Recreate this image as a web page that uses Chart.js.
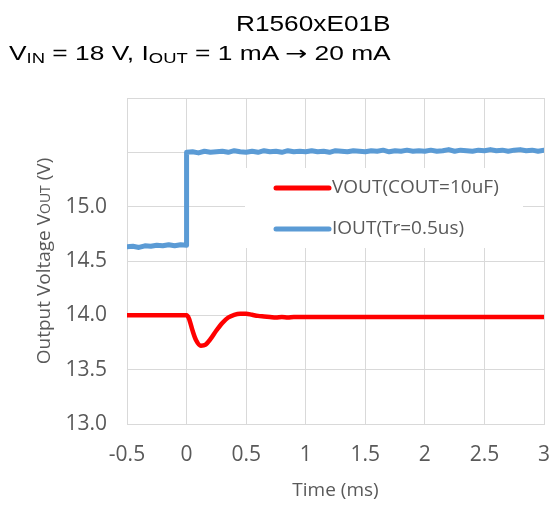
<!DOCTYPE html>
<html>
<head>
<meta charset="utf-8">
<script src="https://cdn.jsdelivr.net/npm/chart.js@4.4.1/dist/chart.umd.min.js"></script>
<style>
  html, body { margin: 0; padding: 0; background: #fff; }
  #wrap { position: relative; width: 552px; height: 505px; }
  canvas { position: absolute; left: 0; top: 0; }
  .ttl { position: absolute; font-family: "Liberation Sans", Arial, sans-serif;
         color: #000; white-space: nowrap; transform-origin: left top; }
  .ttl .sb { font-size: 14px; position: relative; top: 3px; }
  .ttl .ar { font-family: "DejaVu Sans", sans-serif; }
</style>
</head>
<body>
<div id="wrap">
  <canvas id="chart" width="552" height="505"></canvas>
  <div class="ttl" id="t1" style="left:236px; top:13px; font-size:22px; line-height:22px;" data-w="155">R1560xE01B</div>
  <div class="ttl" id="t2" style="left:9px; top:43px; font-size:20px; line-height:20px;" data-w="382">V<span class="sb">IN</span> = 18 V, I<span class="sb">OUT</span> = 1 mA <span class="ar">→</span> 20 mA</div>
</div>
<script>
// VOUT step response (V)
const timeV = [-0.5, 0, 0.02, 0.05, 0.08, 0.12, 0.16, 0.2, 0.25, 0.3, 0.35, 0.4, 0.45, 0.5,
               0.55, 0.6, 0.65, 0.7, 0.75, 0.8, 0.85, 0.9, 1.0, 3.0];
const vout = [14.00, 14.00, 13.97, 13.86, 13.77, 13.72, 13.73, 13.78, 13.86, 13.93, 13.98, 14.005, 14.015, 14.015,
              14.005, 13.995, 13.99, 13.985, 13.98, 13.985, 13.98, 13.985, 13.985, 13.985];

// IOUT load step, drawn on the same scale as the reference
const timeI = [-0.5, -0.45, -0.4, -0.35, -0.3, -0.25, -0.2, -0.15, -0.1, -0.05, 0, 0,
  0.05, 0.1, 0.15, 0.2, 0.25, 0.3, 0.35, 0.4, 0.45, 0.5,
  0.55, 0.6, 0.65, 0.7, 0.75, 0.8, 0.85, 0.9, 0.95, 1.0,
  1.05, 1.1, 1.15, 1.2, 1.25, 1.3, 1.35, 1.4, 1.45, 1.5,
  1.55, 1.6, 1.65, 1.7, 1.75, 1.8, 1.85, 1.9, 1.95, 2.0,
  2.05, 2.1, 2.15, 2.2, 2.25, 2.3, 2.35, 2.4, 2.45, 2.5,
  2.55, 2.6, 2.65, 2.7, 2.75, 2.8, 2.85, 2.9, 2.95, 3.0];
const iout = [14.63, 14.635, 14.625, 14.64, 14.635, 14.645, 14.64, 14.65, 14.64, 14.65, 14.645, 15.50,
  15.505, 15.495, 15.51, 15.50, 15.505, 15.51, 15.50, 15.515, 15.505, 15.50,
  15.51, 15.50, 15.515, 15.505, 15.51, 15.50, 15.515, 15.505, 15.51, 15.505,
  15.515, 15.505, 15.51, 15.50, 15.515, 15.51, 15.505, 15.515, 15.51, 15.505,
  15.515, 15.51, 15.52, 15.505, 15.515, 15.51, 15.52, 15.51, 15.515, 15.51,
  15.52, 15.51, 15.515, 15.525, 15.51, 15.52, 15.515, 15.51, 15.52, 15.515,
  15.525, 15.515, 15.52, 15.51, 15.52, 15.525, 15.515, 15.52, 15.51, 15.52];

const xTicks = [-0.5, 0, 0.5, 1, 1.5, 2, 2.5, 3];
const yTicks = [13.0, 13.5, 14.0, 14.5, 15.0, 15.5, 16.0];
const yLabels = ['13.0', '13.5', '14.0', '14.5', '15.0', '', ''];

const grey = '#595959';
const gridCol = '#d9d9d9';

// stretch the title lines to the width they have in the reference
document.querySelectorAll('.ttl').forEach(el => {
  const k = Number(el.dataset.w) / el.offsetWidth;
  el.style.transform = 'scaleX(' + k + ')';
});

const extras = {
  id: 'extras',
  afterDraw(chart) {
    const ctx = chart.ctx;
    const a = chart.chartArea;
    ctx.save();
    // legend box
    const bx = a.left + 118, by = a.top + 70;
    ctx.fillStyle = '#fff';
    ctx.fillRect(bx, by, 278, 80);
    const ds = chart.data.datasets;
    const rows = [by + 20, by + 61];
    ds.forEach((d, i) => {
      ctx.strokeStyle = d.borderColor;
      ctx.lineWidth = 5;
      ctx.lineCap = 'round';
      ctx.beginPath();
      ctx.moveTo(bx + 31, rows[i]);
      ctx.lineTo(bx + 84, rows[i]);
      ctx.stroke();
      ctx.fillStyle = grey;
      ctx.font = '19px "Open Sans"';
      ctx.textBaseline = 'middle';
      ctx.textAlign = 'left';
      ctx.fillText(d.label, bx + 87, rows[i]);
    });
    // x title
    ctx.fillStyle = grey;
    ctx.font = '19px "Open Sans"';
    ctx.textAlign = 'center';
    ctx.textBaseline = 'middle';
    ctx.fillText('Time (ms)', (a.left + a.right) / 2, a.bottom + 67);
    // y title with small subscript
    ctx.translate(43, (a.top + a.bottom) / 2);
    ctx.rotate(-Math.PI / 2);
    const big = '19px "Open Sans"', small = '14px "Open Sans"';
    const p1 = 'Output Voltage V', p2 = 'OUT', p3 = ' (V)';
    ctx.font = big; const w1 = ctx.measureText(p1).width, w3 = ctx.measureText(p3).width;
    ctx.font = small; const w2 = ctx.measureText(p2).width;
    let x = -(w1 + w2 + w3) / 2;
    ctx.textAlign = 'left';
    ctx.textBaseline = 'alphabetic';
    ctx.font = big; ctx.fillText(p1, x, 7); x += w1;
    ctx.font = small; ctx.fillText(p2, x, 7); x += w2;
    ctx.font = big; ctx.fillText(p3, x, 7);
    ctx.restore();
  }
};

new Chart(document.getElementById('chart'), {
  type: 'line',
  data: {
    datasets: [
      {
        label: 'VOUT(COUT=10uF)',
        data: timeV.map((t, i) => ({ x: t, y: vout[i] })),
        borderColor: '#ff0000',
        borderWidth: 4.5,
        pointRadius: 0,
        cubicInterpolationMode: 'monotone',
        borderJoinStyle: 'round',
        borderCapStyle: 'round'
      },
      {
        label: 'IOUT(Tr=0.5us)',
        data: timeI.map((t, i) => ({ x: t, y: iout[i] })),
        borderColor: '#5b9bd5',
        borderWidth: 5,
        pointRadius: 0,
        tension: 0,
        borderJoinStyle: 'round',
        borderCapStyle: 'round'
      }
    ]
  },
  options: {
    responsive: false,
    animation: false,
    devicePixelRatio: 1,
    layout: { padding: { top: 98, right: 8, bottom: 0, left: 0 } },
    plugins: { legend: { display: false }, title: { display: false }, tooltip: { enabled: false } },
    scales: {
      x: {
        type: 'linear',
        min: -0.5, max: 3,
        afterBuildTicks: s => { s.ticks = xTicks.map(v => ({ value: v })); },
        afterFit: s => { s.height = 81; s.paddingLeft = 0; s.paddingRight = 0; },
        ticks: { color: grey, font: { family: 'Open Sans', size: 21 }, padding: 18, maxRotation: 0,
                 callback: v => String(v) },
        grid: { color: gridCol, drawTicks: false },
        border: { color: gridCol }
      },
      y: {
        min: 13, max: 16,
        afterBuildTicks: s => { s.ticks = yTicks.map(v => ({ value: v })); },
        afterFit: s => { s.width = 127; s.paddingTop = 0; s.paddingBottom = 0; },
        ticks: { color: grey, font: { family: 'Open Sans', size: 21 }, padding: 20,
                 callback: (v, i) => yLabels[i] },
        grid: { color: gridCol, drawTicks: false },
        border: { color: gridCol }
      }
    }
  },
  plugins: [extras]
});
</script>
</body>
</html>
